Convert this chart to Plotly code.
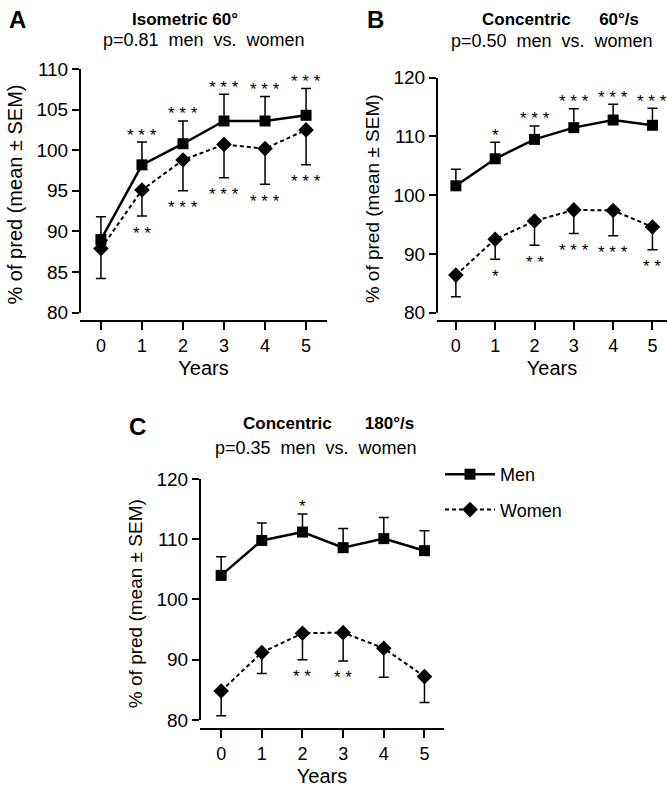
import plotly.graph_objects as go

W, H = 667, 791

years = [0, 1, 2, 3, 4, 5]

# Panel A: Isometric 60°
a_men = [89.0, 98.2, 100.8, 103.6, 103.6, 104.3]
a_men_sem = [2.8, 2.8, 2.8, 3.3, 3.0, 3.3]
a_women = [87.9, 95.1, 98.8, 100.7, 100.2, 102.5]
a_women_sem = [3.7, 3.2, 3.8, 4.1, 4.4, 4.3]
a_men_sig = ["", "***", "***", "***", "***", "***"]
a_women_sig = ["", "**", "***", "***", "***", "***"]

# Panel B: Concentric 60°/s
b_men = [101.6, 106.2, 109.5, 111.5, 112.8, 111.9]
b_men_sem = [2.8, 2.8, 2.3, 3.2, 2.7, 2.9]
b_women = [86.4, 92.5, 95.6, 97.5, 97.4, 94.6]
b_women_sem = [3.7, 3.4, 4.1, 4.0, 4.3, 3.9]
b_men_sig = ["", "*", "***", "***", "***", "***"]
b_women_sig = ["", "*", "**", "***", "***", "**"]

# Panel C: Concentric 180°/s
c_men = [104.0, 109.8, 111.2, 108.6, 110.1, 108.1]
c_men_sem = [3.1, 2.9, 3.0, 3.2, 3.5, 3.3]
c_women = [84.8, 91.2, 94.4, 94.5, 91.9, 87.2]
c_women_sem = [4.1, 3.5, 4.4, 4.7, 4.8, 4.3]
c_men_sig = ["", "", "*", "", "", ""]
c_women_sig = ["", "", "**", "**", "", ""]

a_yticks = [80, 85, 90, 95, 100, 105, 110]
bc_yticks = [80, 90, 100, 110, 120]

FONT = "Liberation Sans, Arial, Helvetica, sans-serif"
NB = "\u00a0"


def px_x(p):
    return p / W


def px_y(p):
    return 1 - p / H


panels = [
    dict(name="A", men=a_men, msem=a_men_sem, women=a_women, wsem=a_women_sem,
         msig=a_men_sig, wsig=a_women_sig, yticks=a_yticks,
         xdom=[px_x(80), px_x(327)], ydom=[px_y(320), px_y(69)],
         xrange=[-0.51, 5.51], yrange=[79.1, 110], ylo=80, yhi=110,
         ytitle_size=20),
    dict(name="B", men=b_men, msem=b_men_sem, women=b_women, wsem=b_women_sem,
         msig=b_men_sig, wsig=b_women_sig, yticks=bc_yticks,
         xdom=[px_x(437), 1.0], ydom=[px_y(320), px_y(77.7)],
         xrange=[-0.48, 5.37], yrange=[78.76, 120], ylo=80, yhi=120,
         ytitle_size=19),
    dict(name="C", men=c_men, msem=c_men_sem, women=c_women, wsem=c_women_sem,
         msig=c_men_sig, wsig=c_women_sig, yticks=bc_yticks,
         xdom=[px_x(200), px_x(444)], ydom=[px_y(728.3), px_y(479)],
         xrange=[-0.52, 5.48], yrange=[78.62, 120], ylo=80, yhi=120,
         ytitle_size=19),
]

fig = go.Figure()
annotations = []
shapes = []

for i, p in enumerate(panels):
    sfx = "" if i == 0 else str(i + 1)
    xa, ya = "x" + sfx, "y" + sfx
    show = (p["name"] == "C")
    fig.add_trace(go.Scatter(
        x=years, y=p["men"], xaxis=xa, yaxis=ya, name="Men",
        mode="lines+markers", showlegend=show, legendgroup="men",
        line=dict(color="black", width=2.5),
        marker=dict(symbol="square", size=11, color="black"),
        error_y=dict(type="data", symmetric=False, array=p["msem"],
                     arrayminus=[0] * len(years), color="black",
                     thickness=1.5, width=5),
        cliponaxis=False,
    ))
    fig.add_trace(go.Scatter(
        x=years, y=p["women"], xaxis=xa, yaxis=ya, name="Women",
        mode="lines+markers", showlegend=show, legendgroup="women",
        line=dict(color="black", width=2, dash="4px,3px"),
        marker=dict(symbol="diamond", size=12, color="black"),
        error_y=dict(type="data", symmetric=False, array=[0] * len(years),
                     arrayminus=p["wsem"], color="black",
                     thickness=1.5, width=5),
        cliponaxis=False,
    ))
    axis_key = "xaxis" + sfx
    yaxis_key = "yaxis" + sfx
    fig.update_layout(**{
        axis_key: dict(
            domain=p["xdom"], range=p["xrange"], anchor=ya,
            tickvals=years, ticks="outside", ticklen=8, tickwidth=2,
            tickcolor="black", showline=True, linewidth=2, linecolor="black",
            showgrid=False, zeroline=False, automargin=False,
            tickfont=dict(size=18, color="black", family=FONT),
            title=dict(text="Years", font=dict(size=20, color="black", family=FONT),
                       standoff=6),
        ),
        yaxis_key: dict(
            domain=p["ydom"], range=p["yrange"], anchor=xa,
            tickvals=p["yticks"], ticks="outside", ticklen=7, tickwidth=2,
            tickcolor="black", showline=False, showgrid=False, zeroline=False,
            automargin=False,
            tickfont=dict(size=19, color="black", family=FONT),
            title=dict(text="% of pred (mean ± SEM)",
                       font=dict(size=p["ytitle_size"], color="black", family=FONT),
                       standoff=8),
        ),
    })
    # detached y-axis line
    shapes.append(dict(type="line", xref=xa + " domain", x0=0, x1=0,
                       yref=ya, y0=p["ylo"], y1=p["yhi"],
                       line=dict(color="black", width=2)))
    # significance stars
    for x, m, s, sig in zip(years, p["men"], p["msem"], p["msig"]):
        if sig:
            annotations.append(dict(x=x, y=m + s, xref=xa, yref=ya, text=" ".join(sig),
                                    showarrow=False, yshift=7, yanchor="middle",
                                    font=dict(size=17, color="black", family=FONT)))
    for x, m, s, sig in zip(years, p["women"], p["wsem"], p["wsig"]):
        if sig:
            annotations.append(dict(x=x, y=m - s, xref=xa, yref=ya, text=" ".join(sig),
                                    showarrow=False, yshift=-17, yanchor="middle",
                                    font=dict(size=17, color="black", family=FONT)))

# panel titles
titles = [
    ("A", 17, 20, "<b>Isometric 60°</b>", 185, 20, "p=0.81 men vs. women", 204, 40),
    ("B", 375, 20, "<b>Concentric" + NB * 6 + "60°/s</b>", 560, 20,
     "p=0.50 men vs. women", 552, 41),
    ("C", 137, 427, "<b>Concentric" + NB * 7 + "180°/s</b>", 328, 423,
     "p=0.35 men vs. women", 316, 448),
]
for letter, lx, ly, t, tx, ty, sub, sx, sy in titles:
    annotations.append(dict(x=px_x(lx), y=px_y(ly), xref="paper", yref="paper",
                            text="<b>" + letter + "</b>", showarrow=False,
                            xanchor="center", yanchor="middle",
                            font=dict(size=24, color="black", family=FONT)))
    annotations.append(dict(x=px_x(tx), y=px_y(ty), xref="paper", yref="paper",
                            text=t, showarrow=False, xanchor="center", yanchor="middle",
                            font=dict(size=17, color="black", family=FONT)))
    annotations.append(dict(x=px_x(sx), y=px_y(sy), xref="paper", yref="paper",
                            text=sub.replace(" ", NB + " "), showarrow=False,
                            xanchor="center", yanchor="middle",
                            font=dict(size=18, color="black", family=FONT)))

fig.update_layout(
    width=W, height=H,
    margin=dict(l=0, r=0, t=0, b=0),
    paper_bgcolor="white", plot_bgcolor="white",
    font=dict(family=FONT, color="black"),
    annotations=annotations, shapes=shapes,
    showlegend=True,
    legend=dict(x=px_x(440), y=px_y(456), xanchor="left", yanchor="top",
                font=dict(size=18, color="black", family=FONT),
                bgcolor="rgba(0,0,0,0)", tracegroupgap=9, itemwidth=50,
                traceorder="grouped"),
)

fig.write_html("out.html",
               config={"displayModeBar": False},
               post_script="document.body.style.margin='0';"
                           "document.body.style.overflow='hidden';")
